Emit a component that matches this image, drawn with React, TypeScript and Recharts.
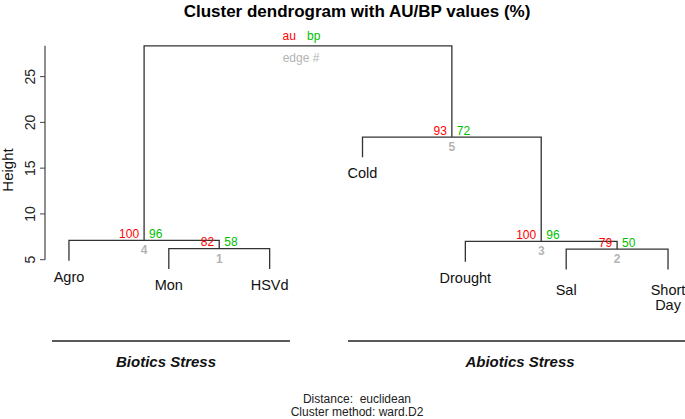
import React from 'react';
import { ComposedChart, Line, Scatter, XAxis, YAxis, ReferenceLine } from 'recharts';

// leaves in plotting order
const leafNames = ['Agro', 'Mon', 'HSVd', 'Cold', 'Drought', 'Sal', 'Short\nDay'];
const leafPos = [1, 2, 3.01, 3.94, 4.97, 5.98, 7];

// hclust-style merge table: negative = leaf (1-based), positive = earlier merge
const mergeLeft = [-2, -6, -5, -1, -4, 4];
const mergeRight = [-3, -7, 2, 1, 3, 5];
const mergeHeight = [6.2, 6.15, 7.0, 7.11, 18.4, 28.36];

// pvclust values per edge (root has none)
const auValues = [82, 79, 100, 100, 93];
const bpValues = [58, 50, 96, 96, 72];
const edgeIds = [1, 2, 3, 4, 5];

const yTicks = [5, 10, 15, 20, 25];

const FONT = '"Liberation Sans", Arial, Helvetica, sans-serif';
const LINE = '#333333';
const AU_COL = '#ff0000';
const BP_COL = '#00c000';
const EDGE_COL = '#b4b4b4';

// plot.hclust default hang = 0.1 * range of heights
const hang = 0.1 * (Math.max(...mergeHeight) - Math.min(...mergeHeight));

const nodeX: number[] = [];
const childX = (c: number) => (c < 0 ? leafPos[-c - 1] : nodeX[c - 1]);
mergeLeft.forEach((l, i) => {
  nodeX[i] = (childX(l) + childX(mergeRight[i])) / 2;
});
const childY = (c: number, parentH: number) => (c < 0 ? parentH - hang : mergeHeight[c - 1]);

const brackets = mergeLeft.map((l, i) => {
  const r = mergeRight[i];
  const h = mergeHeight[i];
  return [
    { x: childX(l), y: childY(l, h) },
    { x: childX(l), y: h },
    { x: childX(r), y: h },
    { x: childX(r), y: childY(r, h) },
  ];
});

const nodeLabels = edgeIds.map((id, i) => ({
  x: nodeX[i],
  y: mergeHeight[i],
  au: auValues[i],
  bp: bpValues[i],
  edge: id,
}));

const rootIdx = mergeHeight.length - 1;
const rootPoint = [{ x: nodeX[rootIdx], y: mergeHeight[rootIdx] }];

const leafPoints = leafNames.map((name, k) => {
  const leaf = -(k + 1);
  const m = mergeLeft.findIndex((c, i) => c === leaf || mergeRight[i] === leaf);
  return { x: leafPos[k], y: mergeHeight[m] - hang, name };
});

// small vertical nudge for the right-most pair, as in the figure
const LABEL_NUDGE: Record<string, number> = { Sal: 5, 'Short\nDay': 5 };

const NodeShape = (props: any) => {
  const { cx, cy, payload } = props;
  return (
    <g fontFamily={FONT} fontSize={12}>
      <text x={cx - 5} y={cy - 2.5} textAnchor="end" fill={AU_COL}>{payload.au}</text>
      <text x={cx + 5} y={cy - 2.5} textAnchor="start" fill={BP_COL}>{payload.bp}</text>
      <text x={cx} y={cy + 14} textAnchor="middle" fill={EDGE_COL} fontWeight="bold">{payload.edge}</text>
    </g>
  );
};

const RootShape = (props: any) => {
  const { cx, cy } = props;
  return (
    <g fontFamily={FONT} fontSize={12}>
      <text x={cx - 2} y={cy - 6} textAnchor="end" fill={AU_COL}>au</text>
      <text x={cx + 9} y={cy - 6} textAnchor="start" fill={BP_COL}>bp</text>
      <text x={cx + 3} y={cy + 16} textAnchor="middle" fill={EDGE_COL}>edge #</text>
    </g>
  );
};

const LeafShape = (props: any) => {
  const { cx, cy, payload } = props;
  const lines = String(payload.name).split('\n');
  const top = cy + 21 + (LABEL_NUDGE[payload.name] || 0);
  return (
    <text x={cx} y={top} textAnchor="middle" fontFamily={FONT} fontSize={14.5} fill="#111">
      {lines.map((t, i) => (
        <tspan key={i} x={cx} dy={i === 0 ? 0 : 15}>{t}</tspan>
      ))}
    </text>
  );
};

const YTick = (props: any) => {
  const { x, y, payload } = props;
  return (
    <text
      x={x - 3}
      y={y}
      transform={`rotate(-90 ${x - 3} ${y})`}
      textAnchor="middle"
      fontFamily={FONT}
      fontSize={14}
      fill="#222"
    >
      {payload.value}
    </text>
  );
};

const X_DOMAIN: [number, number] = [0.76, 7.17];

export default function App() {
  return (
    <div style={{ position: 'absolute', left: 0, top: 0, width: 685, height: 419, background: '#fff' }}>
      <ComposedChart width={685} height={419} margin={{ top: 40, right: 0, bottom: 141, left: 0 }}>
        <XAxis dataKey="x" type="number" domain={X_DOMAIN} hide allowDataOverflow />
        <YAxis
          dataKey="y"
          type="number"
          domain={[3, 29]}
          ticks={yTicks}
          width={45}
          axisLine={false}
          tickSize={5}
          tickMargin={2}
          tickLine={{ stroke: '#444' }}
          tick={<YTick />}
        />
        <ReferenceLine
          segment={[{ x: X_DOMAIN[0], y: 5 }, { x: X_DOMAIN[0], y: mergeHeight[rootIdx] }]}
          stroke="#444"
          strokeWidth={1.2}
          ifOverflow="visible"
        />
        {brackets.map((pts, i) => (
          <Line
            key={i}
            data={pts}
            dataKey="y"
            type="linear"
            stroke={LINE}
            strokeWidth={1.3}
            dot={false}
            activeDot={false}
            isAnimationActive={false}
          />
        ))}
        <Scatter data={nodeLabels} dataKey="y" shape={<NodeShape />} isAnimationActive={false} />
        <Scatter data={rootPoint} dataKey="y" shape={<RootShape />} isAnimationActive={false} />
        <Scatter data={leafPoints} dataKey="y" shape={<LeafShape />} isAnimationActive={false} />
      </ComposedChart>
      <svg
        width={685}
        height={419}
        style={{ position: 'absolute', left: 0, top: 0, pointerEvents: 'none' }}
        fontFamily={FONT}
      >
        <text x={357} y={17} textAnchor="middle" fontSize={17} fontWeight="bold" fill="#000">
          Cluster dendrogram with AU/BP values (%)
        </text>
        <text x={13} y={170} transform="rotate(-90 13 170)" textAnchor="middle" fontSize={15} fill="#111">
          Height
        </text>
        <line x1={52} x2={290} y1={341} y2={341} stroke="#222" strokeWidth={1.5} />
        <line x1={348} x2={685} y1={341} y2={341} stroke="#222" strokeWidth={1.5} />
        <text x={166} y={367} textAnchor="middle" fontSize={15} fontWeight="bold" fontStyle="italic" fill="#111">
          Biotics Stress
        </text>
        <text x={520} y={367} textAnchor="middle" fontSize={15} fontWeight="bold" fontStyle="italic" fill="#111">
          Abiotics Stress
        </text>
        <text x={357} y={403} textAnchor="middle" fontSize={12} fill="#222" xmlSpace="preserve">
          Distance:  euclidean
        </text>
        <text x={357} y={416} textAnchor="middle" fontSize={12} fill="#222">
          Cluster method: ward.D2
        </text>
      </svg>
    </div>
  );
}
